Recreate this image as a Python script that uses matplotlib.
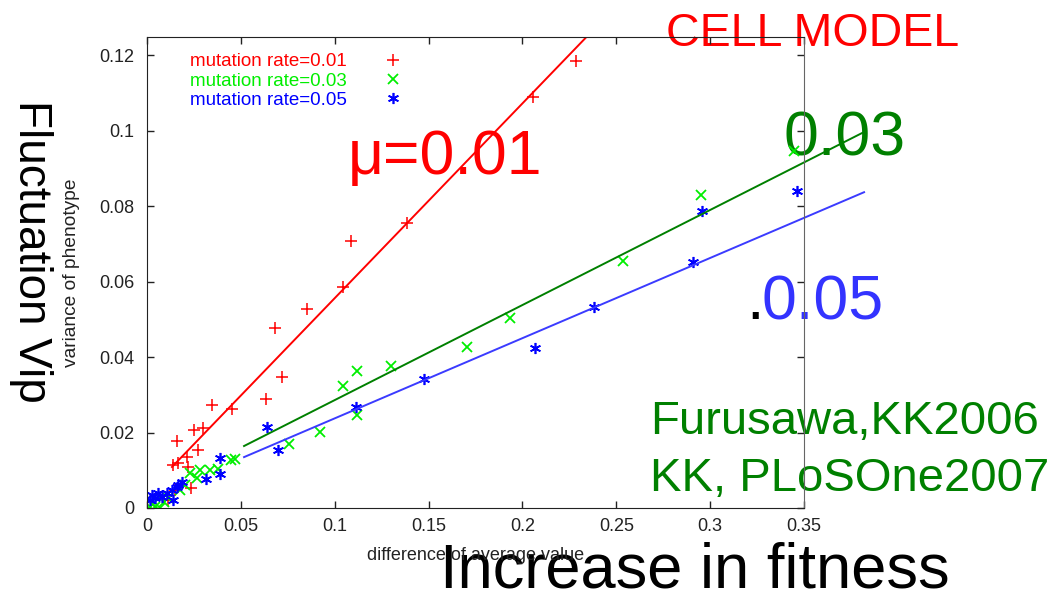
import matplotlib
matplotlib.use('Agg')
import matplotlib.pyplot as plt
import numpy as np

plt.rcParams['font.family'] = ['Liberation Sans', 'DejaVu Sans']

# data
red_x = [0.2286, 0.2056, 0.1087, 0.1044, 0.1385, 0.0852, 0.0682, 0.0719, 0.0634, 0.0346,
         0.0453, 0.0250, 0.0298, 0.0160, 0.0272, 0.0165, 0.0213, 0.0218, 0.0234, 0.0139,
         0.0149, 0.0112]
red_y = [0.1184, 0.1089, 0.0707, 0.0585, 0.0755, 0.0527, 0.0477, 0.0347, 0.0289, 0.0273,
         0.0262, 0.0207, 0.0212, 0.0177, 0.0154, 0.0119, 0.0135, 0.0109, 0.0053, 0.0114,
         0.0048, 0.0021]
green_x = [0.3447, 0.2952, 0.2536, 0.1934, 0.1705, 0.1300, 0.1119, 0.1044, 0.1119, 0.0922,
           0.0757, 0.0469, 0.0448, 0.0378, 0.0336, 0.0282, 0.0266, 0.0229, 0.0202, 0.0176,
           0.0112, 0.0043, 0.0069, 0.0016, 0.0090, 0.0030]
green_y = [0.0946, 0.0829, 0.0654, 0.0503, 0.0426, 0.0376, 0.0363, 0.0323, 0.0246, 0.0201,
           0.0170, 0.0130, 0.0127, 0.0103, 0.0101, 0.0101, 0.0079, 0.0093, 0.0061, 0.0048,
           0.0026, 0.0003, 0.0000, 0.0003, 0.0015, 0.0010]
blue_x = [0.3463, 0.2957, 0.2909, 0.2381, 0.2067, 0.1476, 0.1113, 0.0639, 0.0698, 0.0389,
          0.0389, 0.0314, 0.0186, 0.0165, 0.0160, 0.0133, 0.0139, 0.0107, 0.0080, 0.0059,
          0.0043, 0.0027, 0.0016]
blue_y = [0.0840, 0.0787, 0.0652, 0.0532, 0.0424, 0.0342, 0.0268, 0.0215, 0.0154, 0.0132,
          0.0090, 0.0077, 0.0069, 0.0061, 0.0056, 0.0048, 0.0021, 0.0040, 0.0029, 0.0040,
          0.0026, 0.0034, 0.0021]

# fitted lines: slope, intercept, x range
fit_red = (0.516, 0.0040, 0.0133, 0.236)
fit_green = (0.2519, 0.0034, 0.0517, 0.382)
fit_blue = (0.2125, 0.0025, 0.0517, 0.382)

labels = ["mutation rate=0.01", "mutation rate=0.03", "mutation rate=0.05"]
xticks = [0, 0.05, 0.1, 0.15, 0.2, 0.25, 0.3, 0.35]
yticks = [0, 0.02, 0.04, 0.06, 0.08, 0.1, 0.12]

W, H = 1056, 591
fig = plt.figure(figsize=(W/100., H/100.), dpi=100)
ax = fig.add_axes([147./W, 1-508./H, (804-147.)/W, (508-37.)/H])
ax.patch.set_alpha(0)

def px(x, y):
	return x/float(W), 1-y/float(H)

asterisk = (6, 2, 0)
h1, = ax.plot(red_x, red_y, ls='none', marker='+', color='#ff0000', ms=9, mew=1.1)
h2, = ax.plot(green_x, green_y, ls='none', marker='x', color='#00ee00', ms=7, mew=1.3)
h3, = ax.plot(blue_x, blue_y, ls='none', marker=asterisk, color='#0000ff', ms=8, mew=1.2)

for (m, b, x0, x1), c, clip in [(fit_red, '#ff0000', True), (fit_green, '#008000', False),
                                 (fit_blue, '#3b3bff', False)]:
	xx = np.array([x0, x1])
	ax.plot(xx, m*xx + b, color=c, lw=1.4, clip_on=clip)

ax.set_xlim(0, 0.35)
ax.set_ylim(0, 0.1248)
ax.set_xticks(xticks)
ax.set_xticklabels(["0", "0.05", "0.1", "0.15", "0.2", "0.25", "0.3", "0.35"])
ax.set_yticks(yticks)
ax.set_yticklabels(["0", "0.02", "0.04", "0.06", "0.08", "0.1", "0.12"])
ax.tick_params(direction='in', length=5, width=1, top=True, right=True,
               labelsize=13, labelcolor='#222222', color='#222222')
ax.tick_params(axis='x', pad=7)
ax.tick_params(axis='y', pad=9)
for s in ['left', 'bottom', 'top']:
	ax.spines[s].set_color('#222222')
ax.spines['right'].set_color('#666666')

leg = ax.legend([h1, h2, h3], labels, loc='upper left',
                bbox_to_anchor=px(190, 53), bbox_transform=fig.transFigure,
                frameon=False, markerfirst=False, fontsize=13.5, labelspacing=0.12,
                handlelength=1.0, handletextpad=1.95, borderpad=0, borderaxespad=0,
                labelcolor='linecolor')

# small gnuplot axis labels
fig.text(*px(71, 273), "variance of phenotype", rotation=90, ha='center', va='center',
         fontsize=13.8, color='#222222')
fig.text(*px(476, 556), "difference of average value", ha='center', va='center',
         fontsize=13, color='#222222')

# slide annotations, under the plot frame
kw = dict(ha='left', va='baseline', zorder=-1)
fig.text(*px(666, 46), "CELL MODEL", fontsize=33.5, color='#ff0000', **kw)
fig.text(*px(348, 174), "μ=0.01", fontsize=45, color='#ff0000', **kw)
fig.text(*px(784, 156), "0.03", fontsize=45, color='#008000', **kw)
fig.text(*px(746, 319), ".", fontsize=45, color='black', **kw)
fig.text(*px(761, 319), "0.05", fontsize=45, color='#3333ff', **kw)
fig.text(*px(650, 434), "Furusawa,KK2006", fontsize=34, color='#008000', **kw)
fig.text(*px(650, 491), "KK, PLoSOne2007", fontsize=34, color='#008000', **kw)
fig.text(*px(440, 587), "Increase in fitness", fontsize=45.5, color='black', **kw)
fig.text(*px(31, 251), "Fluctuation Vip", rotation=270, ha='center', va='center',
         fontsize=33, color='black', zorder=-1)

plt.savefig("out.png", dpi=100)
